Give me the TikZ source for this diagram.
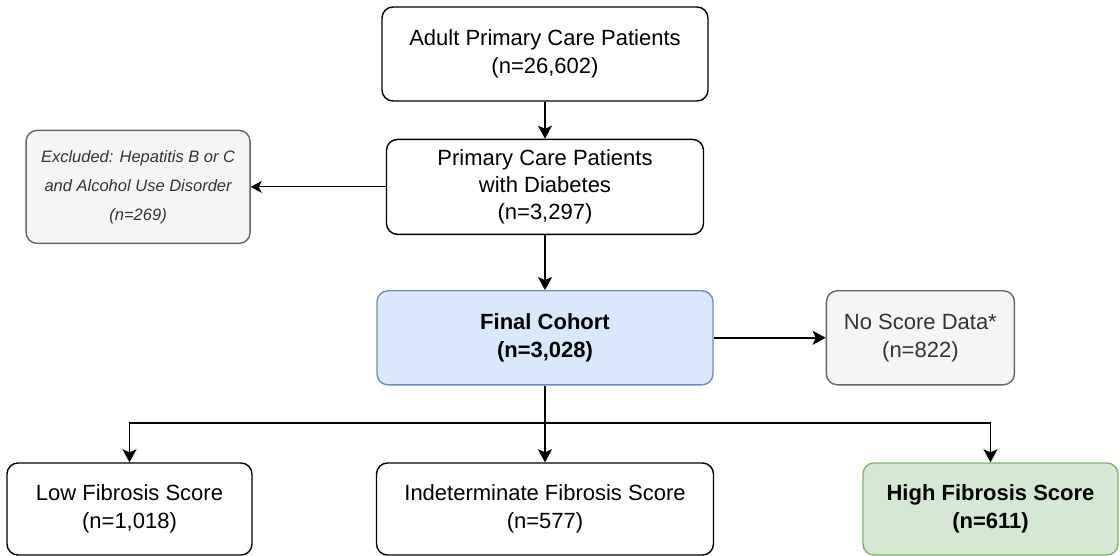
\documentclass[tikz,border=0pt]{standalone}
\usepackage{fontspec}
\setmainfont{Liberation Sans}
\usepackage{xcolor}
\usetikzlibrary{positioning,arrows.meta}

\definecolor{cohortfill}{HTML}{DAE8FC}
\definecolor{cohortline}{HTML}{6C8EBF}
\definecolor{highfill}{HTML}{D5E8D4}
\definecolor{highline}{HTML}{82B366}
\definecolor{greyfill}{HTML}{F5F5F5}
\definecolor{greyline}{HTML}{666666}
\definecolor{greytext}{HTML}{333333}

\tikzset{
  box/.style={draw, rounded corners=11pt, line width=1.4pt, align=center, inner sep=0pt,
    minimum height=94pt, font=\fontsize{22}{28}\selectfont},
  cohort/.style={box, draw=cohortline, fill=cohortfill, font=\fontsize{22}{28}\selectfont\bfseries},
  high/.style={box, draw=highline, fill=highfill, font=\fontsize{22}{28}\selectfont\bfseries},
  grey/.style={box, draw=greyline, fill=greyfill, text=greytext},
  arr/.style={-{Stealth[length=13pt,width=14pt,inset=3pt]}, line width=1.8pt},
  thinarr/.style={-{Stealth[length=11pt,width=12pt,inset=3pt]}, line width=1.1pt}
}

\begin{document}
\begin{tikzpicture}[x=1pt,y=-1pt]
  \useasboundingbox (0,0) rectangle (1120,556);
  \draw node[box, minimum width=326pt] (adult) at (545,54) {Adult Primary Care Patients\\(n=26,602)};
  \draw node[box, below=37pt of adult, minimum width=317pt, minimum height=95pt,
    font=\fontsize{22}{27}\selectfont] (diab) {Primary Care Patients\\with Diabetes\\(n=3,297)};
  \draw node[grey, left=135pt of diab, minimum width=224pt, minimum height=113pt,
    font=\fontsize{16.5}{29}\selectfont\itshape] (excl) {Excluded: Hepatitis B or C\\and Alcohol Use Disorder\\(n=269)};
  \draw node[cohort, below=55pt of diab, minimum width=336pt] (final) {Final Cohort\\(n=3,028)};
  \draw node[grey, right=112pt of final, minimum width=188pt] (noscore) {No Score Data*\\(n=822)};
  \draw node[box, minimum width=245pt, minimum height=92pt] (low) at (129.5,509) {Low Fibrosis Score\\(n=1,018)};
  \draw node[box, minimum width=337pt, minimum height=92pt] (indet) at (545,509) {Indeterminate Fibrosis Score\\(n=577)};
  \draw node[high, minimum width=255pt, minimum height=92pt] (fib) at (990.5,509) {High Fibrosis Score\\(n=611)};
  \coordinate (split) at (545,423);

  \draw[arr] (adult) -- (diab);
  \draw[thinarr] (diab) -- (excl);
  \draw[arr] (diab) -- (final);
  \draw[arr] (final) -- (noscore);
  \draw[arr] (final) -- (indet);
  \draw[arr] (split) -| (low);
  \draw[arr] (split) -| (fib);
\end{tikzpicture}
\end{document}
